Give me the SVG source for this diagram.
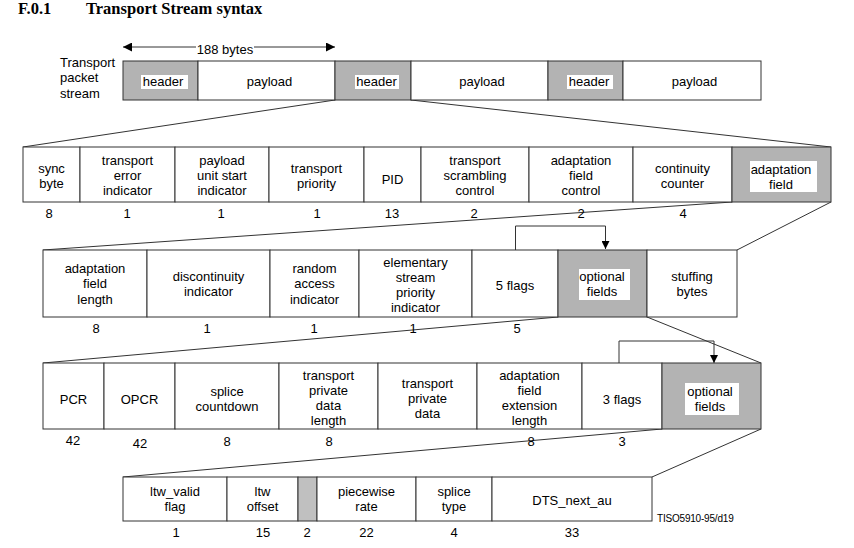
<svg xmlns="http://www.w3.org/2000/svg" width="854" height="548" viewBox="0 0 854 548">
<style>
.c{fill:#fff;stroke:#333;stroke-width:1}
.g{fill:#b3b3b3;stroke:#333;stroke-width:1}
.g2{fill:#c0c0c0;stroke:#333;stroke-width:1}
.w{fill:#fff;stroke:none}
.t{font-family:"Liberation Sans",Arial,sans-serif;font-size:13px;fill:#000;text-anchor:middle}
.ts{font-family:"Liberation Sans",Arial,sans-serif;font-size:13px;fill:#000}
.ttl{font-family:"Liberation Serif","Times New Roman",serif;font-size:16.5px;font-weight:bold;fill:#000}
.ln{stroke:#333;stroke-width:1;fill:none}
</style>
<defs>
<marker id="ah" viewBox="0 0 10 10" refX="10" refY="5" markerWidth="9" markerHeight="8" markerUnits="userSpaceOnUse" orient="auto">
<path d="M0,0 L10,5 L0,10 Z" fill="#000"/>
</marker>
<marker id="ahs" viewBox="0 0 10 10" refX="10" refY="5" markerWidth="10" markerHeight="9" markerUnits="userSpaceOnUse" orient="auto-start-reverse">
<path d="M0,0 L10,5 L0,10 Z" fill="#000"/>
</marker>
</defs>
<rect x="0" y="0" width="854" height="548" fill="#fff"/>
<g id="title">
<text class="ttl" x="18" y="14">F.0.1</text>
<text class="ttl" x="86" y="14">Transport Stream syntax</text>
</g>
<g id="stream-label">
<text class="ts" x="60" y="67">Transport</text>
<text class="ts" x="60" y="82">packet</text>
<text class="ts" x="60" y="97.5">stream</text>
</g>
<g id="connectors">
<line class="ln" x1="123" y1="47" x2="335" y2="47" marker-start="url(#ahs)" marker-end="url(#ahs)"/>
<rect class="w" x="196" y="40" width="58" height="14"/>
<text class="t" x="225" y="53.5">188 bytes</text>
<line class="ln" x1="335" y1="100" x2="23" y2="147"/>
<line class="ln" x1="411" y1="100" x2="831" y2="147"/>
<line class="ln" x1="732" y1="202" x2="43" y2="250"/>
<line class="ln" x1="831" y1="202" x2="737" y2="250"/>
<line class="ln" x1="558" y1="317" x2="43" y2="363"/>
<line class="ln" x1="647" y1="317" x2="761" y2="363"/>
<line class="ln" x1="662" y1="429" x2="123" y2="477"/>
<line class="ln" x1="761" y1="429" x2="652" y2="477"/>
<polyline class="ln" points="515.5,250 515.5,226 605.5,226 605.5,249" marker-end="url(#ah)"/>
<polyline class="ln" points="619,363 619,341 714,341 714,363" marker-end="url(#ah)"/>
</g>
<g id="row1">
<g id="header1"><rect class="g" x="123" y="61" width="75" height="39"/><rect class="w" x="141" y="75" width="47" height="14"/><text class="t" x="163" y="86">header</text></g>
<g id="payload1"><rect class="c" x="198" y="61" width="137" height="39"/><text class="t" x="269.5" y="86">payload</text></g>
<g id="header2"><rect class="g" x="335" y="61" width="76" height="39"/><rect class="w" x="355" y="75" width="44" height="14"/><text class="t" x="376.5" y="86">header</text></g>
<g id="payload2"><rect class="c" x="411" y="61" width="137" height="39"/><text class="t" x="482" y="86">payload</text></g>
<g id="header3"><rect class="g" x="548" y="61" width="75" height="39"/><rect class="w" x="567" y="75" width="46" height="14"/><text class="t" x="589" y="86">header</text></g>
<g id="payload3"><rect class="c" x="623" y="61" width="138" height="39"/><text class="t" x="694.5" y="86">payload</text></g>
</g>
<g id="row2">
<g id="sync-byte"><rect class="c" x="23" y="147" width="57" height="55"/><text class="t" x="51.5" y="172.5">sync</text><text class="t" x="51.5" y="187.5">byte</text><text class="t" x="49" y="217.5">8</text></g>
<g id="transport-error-indicator"><rect class="c" x="80" y="147" width="95" height="55"/><text class="t" x="127.5" y="165">transport</text><text class="t" x="127.5" y="180">error</text><text class="t" x="127.5" y="195">indicator</text><text class="t" x="127" y="217.5">1</text></g>
<g id="payload-unit-start-indicator"><rect class="c" x="175" y="147" width="94" height="55"/><text class="t" x="222" y="165">payload</text><text class="t" x="222" y="180">unit start</text><text class="t" x="222" y="195">indicator</text><text class="t" x="221" y="217.5">1</text></g>
<g id="transport-priority"><rect class="c" x="269" y="147" width="95" height="55"/><text class="t" x="316.5" y="172.5">transport</text><text class="t" x="316.5" y="187.5">priority</text><text class="t" x="317" y="217.5">1</text></g>
<g id="pid"><rect class="c" x="364" y="147" width="57" height="55"/><text class="t" x="392.5" y="184">PID</text><text class="t" x="392" y="217.5">13</text></g>
<g id="transport-scrambling-control"><rect class="c" x="421" y="147" width="108" height="55"/><text class="t" x="475" y="165">transport</text><text class="t" x="475" y="180">scrambling</text><text class="t" x="475" y="195">control</text><text class="t" x="474" y="217.5">2</text></g>
<g id="adaptation-field-control"><rect class="c" x="529" y="147" width="104" height="55"/><text class="t" x="581" y="165">adaptation</text><text class="t" x="581" y="180">field</text><text class="t" x="581" y="195">control</text><text class="t" x="581" y="217.5">2</text></g>
<g id="continuity-counter"><rect class="c" x="633" y="147" width="99" height="55"/><text class="t" x="682.5" y="172.5">continuity</text><text class="t" x="682.5" y="187.5">counter</text><text class="t" x="683" y="217.5">4</text></g>
<g id="adaptation-field"><rect class="g" x="732" y="147" width="99" height="55"/><rect class="w" x="750" y="161" width="67" height="31"/><text class="t" x="781" y="173.5">adaptation</text><text class="t" x="781" y="188.5">field</text></g>
</g>
<g id="row3">
<g id="adaptation-field-length"><rect class="c" x="43" y="250" width="104" height="67"/><text class="t" x="95" y="272.5">adaptation</text><text class="t" x="95" y="288">field</text><text class="t" x="95" y="303.5">length</text><text class="t" x="96" y="332.5">8</text></g>
<g id="discontinuity-indicator"><rect class="c" x="147" y="250" width="123" height="67"/><text class="t" x="208.5" y="281">discontinuity</text><text class="t" x="208.5" y="296">indicator</text><text class="t" x="207" y="332.5">1</text></g>
<g id="random-access-indicator"><rect class="c" x="270" y="250" width="89" height="67"/><text class="t" x="314.5" y="272.5">random</text><text class="t" x="314.5" y="288">access</text><text class="t" x="314.5" y="303.5">indicator</text><text class="t" x="314" y="332.5">1</text></g>
<g id="elementary-stream-priority-indicator"><rect class="c" x="359" y="250" width="113" height="67"/><text class="t" x="415.5" y="267">elementary</text><text class="t" x="415.5" y="282">stream</text><text class="t" x="415.5" y="297">priority</text><text class="t" x="415.5" y="311.5">indicator</text><text class="t" x="413" y="332.5">1</text></g>
<g id="five-flags"><rect class="c" x="472" y="250" width="86" height="67"/><text class="t" x="515" y="290">5 flags</text><text class="t" x="517" y="332.5">5</text></g>
<g id="optional-fields-1"><rect class="g" x="558" y="250" width="89" height="67"/><rect class="w" x="579" y="269" width="51" height="31"/><text class="t" x="602" y="281">optional</text><text class="t" x="602" y="296">fields</text></g>
<g id="stuffing-bytes"><rect class="c" x="647" y="250" width="90" height="67"/><text class="t" x="692" y="281">stuffing</text><text class="t" x="692" y="296">bytes</text></g>
</g>
<g id="row4">
<g id="pcr"><rect class="c" x="43" y="363" width="61" height="66"/><text class="t" x="73.5" y="404">PCR</text><text class="t" x="73" y="445">42</text></g>
<g id="opcr"><rect class="c" x="104" y="363" width="71" height="66"/><text class="t" x="139.5" y="404">OPCR</text><text class="t" x="140" y="448">42</text></g>
<g id="splice-countdown"><rect class="c" x="175" y="363" width="104" height="66"/><text class="t" x="227" y="395.5">splice</text><text class="t" x="227" y="410.5">countdown</text><text class="t" x="227" y="446">8</text></g>
<g id="transport-private-data-length"><rect class="c" x="279" y="363" width="99" height="66"/><text class="t" x="328.5" y="380">transport</text><text class="t" x="328.5" y="395">private</text><text class="t" x="328.5" y="410">data</text><text class="t" x="328.5" y="425">length</text><text class="t" x="329" y="446">8</text></g>
<g id="transport-private-data"><rect class="c" x="378" y="363" width="99" height="66"/><text class="t" x="427.5" y="388">transport</text><text class="t" x="427.5" y="403">private</text><text class="t" x="427.5" y="418">data</text></g>
<g id="adaptation-field-extension-length"><rect class="c" x="477" y="363" width="105" height="66"/><text class="t" x="529.5" y="380">adaptation</text><text class="t" x="529.5" y="395">field</text><text class="t" x="529.5" y="410">extension</text><text class="t" x="529.5" y="425">length</text><text class="t" x="531" y="446">8</text></g>
<g id="three-flags"><rect class="c" x="582" y="363" width="80" height="66"/><text class="t" x="622" y="403.5">3 flags</text><text class="t" x="622" y="446">3</text></g>
<g id="optional-fields-2"><rect class="g" x="662" y="363" width="99" height="66"/><rect class="w" x="685" y="383" width="54" height="32"/><text class="t" x="710" y="396">optional</text><text class="t" x="710" y="411">fields</text></g>
</g>
<g id="row5">
<g id="ltw-valid-flag"><rect class="c" x="123" y="477" width="104" height="44"/><text class="t" x="175" y="496">ltw_valid</text><text class="t" x="175" y="511">flag</text><text class="t" x="176" y="536.5">1</text></g>
<g id="ltw-offset"><rect class="c" x="227" y="477" width="71" height="44"/><text class="t" x="262.5" y="496">ltw</text><text class="t" x="262.5" y="511">offset</text><text class="t" x="263" y="536.5">15</text></g>
<g id="reserved"><rect class="g2" x="298" y="477" width="19" height="44"/><text class="t" x="307" y="536.5">2</text></g>
<g id="piecewise-rate"><rect class="c" x="317" y="477" width="99" height="44"/><text class="t" x="366.5" y="496">piecewise</text><text class="t" x="366.5" y="511">rate</text><text class="t" x="366.5" y="536.5">22</text></g>
<g id="splice-type"><rect class="c" x="416" y="477" width="76" height="44"/><text class="t" x="454" y="496">splice</text><text class="t" x="454" y="511">type</text><text class="t" x="454" y="536.5">4</text></g>
<g id="dts-next-au"><rect class="c" x="492" y="477" width="160" height="44"/><text class="t" x="572" y="504.5">DTS_next_au</text><text class="t" x="572" y="536.5">33</text></g>
</g>
<g id="figure-id">
<text x="657" y="521.5" style="font-family:'Liberation Sans',Arial,sans-serif;font-size:10px;fill:#000;letter-spacing:-0.2px">TISO5910-95/d19</text>
</g>
</svg>
